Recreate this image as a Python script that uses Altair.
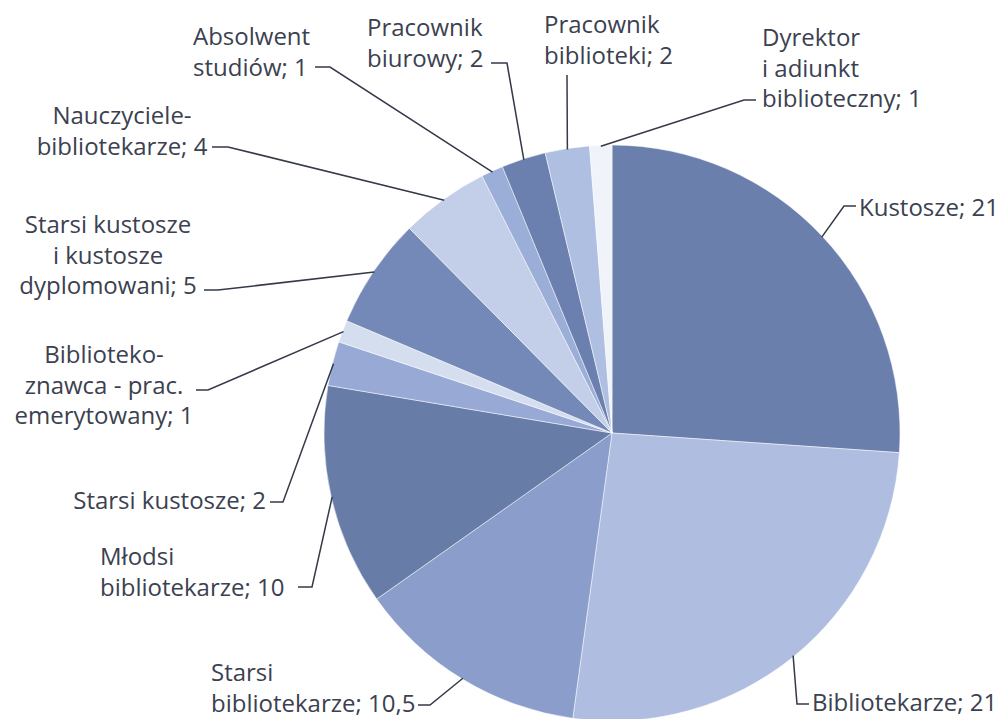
import math
import altair as alt
import pandas as pd

# ---------------- data ----------------
categories = [
    "Kustosze", "Bibliotekarze", "Starsi bibliotekarze", "Młodsi bibliotekarze",
    "Starsi kustosze", "Bibliotekoznawca - prac. emerytowany",
    "Starsi kustosze i kustosze dyplomowani", "Nauczyciele-bibliotekarze",
    "Absolwent studiów", "Pracownik biurowy", "Pracownik biblioteki",
    "Dyrektor i adiunkt biblioteczny",
]
values = [21, 21, 10.5, 10, 2, 1, 5, 4, 1, 2, 2, 1]
label_lines = [
    ["Kustosze; 21"],
    ["Bibliotekarze; 21"],
    ["Starsi", "bibliotekarze; 10,5"],
    ["Młodsi", "bibliotekarze; 10"],
    ["Starsi kustosze; 2"],
    ["Biblioteko-", "znawca - prac.", "emerytowany; 1"],
    ["Starsi kustosze", "i kustosze", "dyplomowani; 5"],
    ["Nauczyciele-", "bibliotekarze; 4"],
    ["Absolwent", "studiów; 1"],
    ["Pracownik", "biurowy; 2"],
    ["Pracownik", "biblioteki; 2"],
    ["Dyrektor", "i adiunkt", "biblioteczny; 1"],
]

# ---------------- style / layout ----------------
colors = ["#6b7fad", "#aebde0", "#8b9ecb", "#687ca8", "#97a9d4", "#d5deef",
          "#7489b8", "#c3cfe9", "#9aaed8", "#6b80ae", "#afbfe2", "#f0f3f9"]
TEXT = "#3b4150"
LINE = "#343a48"
FONT = "Open Sans"
FS = 24
LH = 30.5
M = 8  # page margin
CX, CY, R = 612, 433, 288  # pie centre / radius in page px

# label block: (anchor x, baseline y of first line, align)
label_pos = [
    (859, 216, "left"), (812, 711, "left"), (211, 681, "left"), (100, 565, "left"),
    (266, 509, "right"), (104, 363, "center"), (108, 233, "center"), (122, 124, "center"),
    (193, 45, "left"), (367, 36, "left"), (544, 33, "left"), (762, 46, "left"),
]
# leader polyline points after the point on the pie edge
leader_pts = [
    [(844, 206), (856, 206)], [(797, 704), (809, 704)], [(430, 705), (418, 705)],
    [(312, 587), (298, 587)], [(283, 502), (270, 502)], [(208, 390), (196, 390)],
    [(218, 290), (204, 290)], [(228, 147), (212, 147)], [(330, 67), (315, 67)],
    [(507, 63), (491, 63)], [(567, 75)], [(744, 100), (756, 100)],
]

total = sum(values)
pie_df = pd.DataFrame({"category": categories, "value": values, "idx": range(len(values))})

line_rows, text_rows = [], []
cum = 0.0
for i, (cat, v) in enumerate(zip(categories, values)):
    mid = (cum + v / 2) / total * 2 * math.pi
    cum += v
    ex, ey = CX + (R - 1) * math.sin(mid), CY - (R - 1) * math.cos(mid)
    pts = [(ex, ey)] + leader_pts[i]
    for k, (px, py) in enumerate(pts):
        line_rows.append({"label": cat, "k": k, "x": px - M, "y": py - M})
    ax, ay, al = label_pos[i]
    for j, t in enumerate(label_lines[i]):
        text_rows.append({"label": cat, "t": t, "x": ax - M, "y": ay + j * LH - M, "align": al})

line_df = pd.DataFrame(line_rows)
text_df = pd.DataFrame(text_rows)

pie = alt.Chart(pie_df).mark_arc(radius=R, stroke="#ffffff", strokeWidth=0.5).encode(
    theta=alt.Theta("value:Q", stack=True),
    order=alt.Order("idx:Q", sort="ascending"),
    color=alt.Color("category:N", scale=alt.Scale(domain=categories, range=colors), legend=None),
    x=alt.value(CX - M),
    y=alt.value(CY - M),
)

leaders = alt.Chart(line_df).mark_line(color=LINE, strokeWidth=1.5).encode(
    x=alt.X("x:Q", scale=None, axis=None),
    y=alt.Y("y:Q", scale=None, axis=None),
    detail="label:N",
    order="k:Q",
)

texts = []
for al in ["left", "center", "right"]:
    texts.append(
        alt.Chart(text_df[text_df["align"] == al]).mark_text(
            align=al, baseline="alphabetic", font=FONT, fontSize=FS, color=TEXT
        ).encode(
            x=alt.X("x:Q", scale=None, axis=None),
            y=alt.Y("y:Q", scale=None, axis=None),
            text="t:N",
        )
    )

chart = alt.layer(pie, leaders, *texts).properties(
    width=992, height=711, autosize=alt.AutoSizeParams(type="none"), padding=0,
    background="#ffffff",
).configure_view(stroke=None)

chart.save("out.html", embed_options={"renderer": "svg", "actions": False})
